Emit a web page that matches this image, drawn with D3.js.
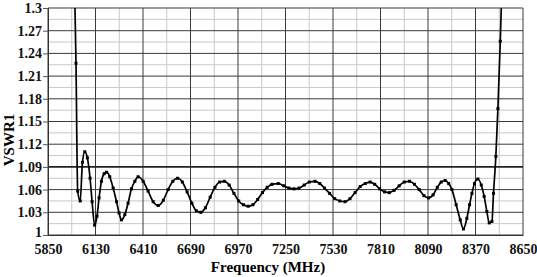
<!DOCTYPE html>
<meta charset="utf-8">
<script src="https://d3js.org/d3.v7.min.js"></script>
<style>
  body { margin: 0; background: #fff; }
  text { font-family: "Liberation Serif", "Times New Roman", serif; font-weight: bold; }
</style>
<div id="chart"></div>
<script>
  // data
  const freq = [5996, 6015, 6025, 6040, 6053, 6067, 6082, 6098, 6110, 6125, 6139, 6151, 6165, 6181, 6195,
    6214, 6234, 6254, 6269, 6283, 6303, 6322, 6342, 6362, 6381, 6411, 6440, 6470, 6500, 6530, 6558, 6586,
    6614, 6642, 6670, 6698, 6724, 6751, 6778, 6806, 6834, 6862, 6889, 6918, 6946, 6974, 7002, 7030, 7058,
    7086, 7114, 7142, 7170, 7207, 7240, 7270, 7300, 7330, 7360, 7390, 7424, 7452, 7480, 7510, 7540, 7570,
    7601, 7630, 7660, 7690, 7720, 7749, 7776, 7805, 7834, 7862, 7890, 7920, 7950, 7981, 8010, 8038, 8066,
    8093, 8120, 8145, 8168, 8191, 8212, 8231, 8256, 8280, 8299, 8319, 8335, 8349, 8364, 8384, 8404, 8421,
    8437, 8451, 8467, 8476, 8490, 8502, 8516, 8530];
  const vswr = [1.46, 1.227, 1.058, 1.045, 1.096, 1.110, 1.102, 1.075, 1.044, 1.013, 1.025, 1.049, 1.071, 1.081, 1.083,
    1.077, 1.062, 1.044, 1.029, 1.020, 1.027, 1.042, 1.061, 1.071, 1.077, 1.071, 1.058, 1.044, 1.039, 1.046, 1.060, 1.071,
    1.075, 1.070, 1.057, 1.042, 1.032, 1.030, 1.036, 1.050, 1.063, 1.070, 1.071, 1.066, 1.055, 1.045, 1.040, 1.038, 1.040,
    1.047, 1.056, 1.063, 1.067, 1.068, 1.065, 1.062, 1.061, 1.062, 1.066, 1.070, 1.071, 1.068, 1.062, 1.055, 1.048, 1.045,
    1.044, 1.048, 1.056, 1.064, 1.068, 1.070, 1.067, 1.061, 1.057, 1.056, 1.059, 1.065, 1.070, 1.071, 1.067, 1.060, 1.052,
    1.049, 1.053, 1.063, 1.070, 1.072, 1.068, 1.060, 1.040, 1.020, 1.008, 1.022, 1.040, 1.055, 1.068, 1.074, 1.066, 1.051,
    1.031, 1.016, 1.018, 1.055, 1.104, 1.167, 1.256, 1.36];
  const xTicks = [5850, 6130, 6410, 6690, 6970, 7250, 7530, 7810, 8090, 8370, 8650];
  const yTicks = [1, 1.03, 1.06, 1.09, 1.12, 1.15, 1.18, 1.21, 1.24, 1.27, 1.3];

  const data = freq.map((f, i) => ({ f: f, v: vswr[i] }));

  const W = 537, H = 277;
  const margin = { top: 8, right: 14, bottom: 42, left: 48 };
  const width = W - margin.left - margin.right,
    height = H - margin.top - margin.bottom;

  const svg = d3.select("#chart").append("svg")
    .attr("width", W).attr("height", H);
  const g = svg.append("g")
    .attr("transform", `translate(${margin.left}, ${margin.top})`);

  const x = d3.scaleLinear().domain([5850, 8650]).range([0, width]);
  const y = d3.scaleLinear().domain([1, 1.3]).range([height, 0]);

  // minor grid
  const xMinor = xTicks.slice(0, -1).map(t => t + 140);
  const yMinor = yTicks.slice(0, -1).map(t => t + 0.015);
  g.selectAll(".vminor").data(xMinor).join("line")
    .attr("x1", d => x(d)).attr("x2", d => x(d)).attr("y1", 0).attr("y2", height)
    .attr("stroke", "#c8c8c8").attr("stroke-width", 1);
  g.selectAll(".hminor").data(yMinor).join("line")
    .attr("y1", d => y(d)).attr("y2", d => y(d)).attr("x1", 0).attr("x2", width)
    .attr("stroke", "#c8c8c8").attr("stroke-width", 1);

  // major grid
  g.selectAll(".vmajor").data(xTicks).join("line")
    .attr("x1", d => x(d)).attr("x2", d => x(d)).attr("y1", 0).attr("y2", height)
    .attr("stroke", "#3a3a3a").attr("stroke-width", 1);
  g.selectAll(".hmajor").data(yTicks).join("line")
    .attr("y1", d => y(d)).attr("y2", d => y(d)).attr("x1", 0).attr("x2", width)
    .attr("stroke", d => d === 1.09 ? "#222" : "#3a3a3a")
    .attr("stroke-width", d => d === 1.09 ? 1.6 : 1);

  // axes
  const yAxis = g.append("g")
    .call(d3.axisLeft(y).tickValues(yTicks).tickSize(5).tickPadding(1)
      .tickFormat(d => String(+d.toFixed(2))));
  yAxis.select(".domain").attr("stroke", "#333");
  yAxis.selectAll("line").attr("stroke", "#555");
  yAxis.selectAll("text").style("font-size", "14px").attr("fill", "#111")
    .attr("dy", d => d === 1 ? "0.1em" : "0.32em");

  const xAxis = g.append("g")
    .attr("transform", `translate(0, ${height})`)
    .call(d3.axisBottom(x).tickValues(xTicks).tickSize(0).tickPadding(9)
      .tickFormat(d3.format("d")));
  xAxis.select(".domain").attr("stroke", "#333");
  xAxis.selectAll("text").style("font-size", "14px").attr("fill", "#111");

  // axis titles
  svg.append("text")
    .attr("x", 268).attr("y", 272)
    .attr("text-anchor", "middle")
    .style("font-size", "15px")
    .text("Frequency (MHz)");
  svg.append("text")
    .attr("transform", "translate(14, 140) rotate(-90)")
    .attr("text-anchor", "middle")
    .style("font-size", "15px")
    .text("VSWR1");

  // curve
  g.append("clipPath").attr("id", "clip")
    .append("rect").attr("width", width).attr("height", height);
  const plot = g.append("g").attr("clip-path", "url(#clip)");

  plot.append("path")
    .datum(data)
    .attr("fill", "none")
    .attr("stroke", "#000")
    .attr("stroke-width", 1.7)
    .attr("d", d3.line().x(d => x(d.f)).y(d => y(d.v)).curve(d3.curveMonotoneX));

  plot.selectAll(".pt").data(data).join("rect")
    .attr("x", d => x(d.f) - 1.5).attr("y", d => y(d.v) - 1.5)
    .attr("width", 3).attr("height", 3)
    .attr("fill", "#000");
</script>
